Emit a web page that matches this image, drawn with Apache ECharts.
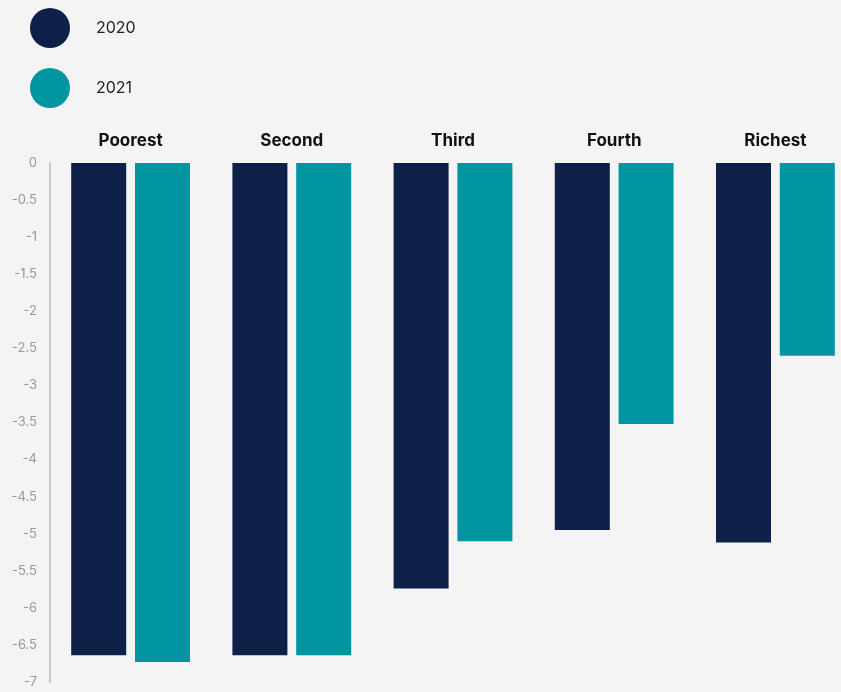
<!DOCTYPE html>
<html><head><meta charset="utf-8">
<script src="https://cdn.jsdelivr.net/npm/echarts@6/dist/echarts.min.js"></script>
<style>html,body{margin:0;padding:0;background:#f4f4f4;overflow:hidden}#c{width:870px;height:692px}</style>
</head><body><div id="c"></div>
<script>
const categories = ['Poorest', 'Second', 'Third', 'Fourth', 'Richest'];
const seriesNames = ['2020', '2021'];
const values2020 = [-6.64, -6.64, -5.74, -4.95, -5.12];
const values2021 = [-6.73, -6.64, -5.1, -3.52, -2.6];
const colors = ['#0e2048', '#0095a0'];

const chart = echarts.init(document.getElementById('c'));
chart.setOption({
  backgroundColor: '#f4f4f4',
  animation: false,
  legend: {
    orient: 'vertical', left: 25, top: 3,
    icon: 'circle', itemWidth: 40, itemHeight: 40, itemGap: 20,
    textStyle: { fontFamily: 'Inter', fontSize: 16, color: '#222', padding: [0, 0, 0, 21] },
    data: seriesNames
  },
  grid: { left: 50, top: 163, right: 14, bottom: 10, containLabel: false },
  xAxis: {
    type: 'category', position: 'top', data: categories,
    axisLine: { show: false }, axisTick: { show: false },
    axisLabel: { fontFamily: 'Inter', fontWeight: 'bold', fontSize: 17, color: '#111', margin: 14 }
  },
  yAxis: {
    type: 'value', min: -7, max: 0, interval: 0.5,
    axisLine: { show: true, lineStyle: { color: '#c8c8c8', width: 2 } },
    axisTick: { show: false }, splitLine: { show: false },
    axisLabel: { fontFamily: 'Inter', fontSize: 13, color: '#999', margin: 13 }
  },
  series: [
    { name: seriesNames[0], type: 'bar', data: values2020, barWidth: 55, barGap: '16%', itemStyle: { color: colors[0] } },
    { name: seriesNames[1], type: 'bar', data: values2021, barWidth: 55, itemStyle: { color: colors[1] } }
  ]
});
</script></body></html>
